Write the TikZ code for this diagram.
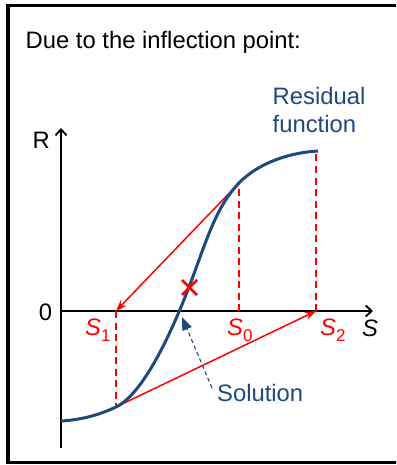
\documentclass[tikz,border=0pt]{standalone}
\usepackage{fontspec}
\setmainfont{Liberation Sans}
\usetikzlibrary{arrows.meta,calc}
\definecolor{curveblue}{HTML}{1F497D}
\definecolor{tanred}{HTML}{FF0000}
\newcommand{\svar}[1]{\textit{S}\raisebox{-6pt}{\fontsize{17}{17}\selectfont #1}}
\begin{document}
\begin{tikzpicture}[x=1pt,y=-1pt,
  lbl/.style={inner sep=0pt,font=\fontsize{23.8}{28}\selectfont},
  axisline/.style={line width=1.8pt,-{Straight Barb[length=6pt,width=11pt]}},
  curveline/.style={curveblue,line width=3pt},
  tangent/.style={tanred,line width=1.5pt,-{Stealth[length=11pt,width=8pt]}},
  guide/.style={tanred,line width=1.6pt,dash pattern=on 7pt off 4.5pt},
  solarrow/.style={curveblue,line width=1.1pt,dash pattern=on 4pt off 3pt,-{Triangle[length=13pt,width=10pt]}},
  crossmark/.style={tanred,line width=2.6pt},
  frame/.style={line width=3.5pt}]
\useasboundingbox (0,0) rectangle (396,465);
\clip (0,0) rectangle (396,465);
\draw[frame] (8,5.5) rectangle (410,462.5);

% title
\node[lbl,anchor=base west] (title) at (25.5,49) {Due to the inflection point:};

% axes
\coordinate (O) at (61,311);
\coordinate (ybot) at (61,448);
\coordinate (ytop) at (61,128);
\coordinate (xend) at (373,311);
\draw[axisline] (ybot) -- (ytop);
\draw[axisline] (O) -- (xend);
\node[lbl,anchor=base west] (rlab) at (32.5,149) {R};
\node[lbl,anchor=base] (zlab) at (45.5,320) {0};
\node[lbl,anchor=base west] (slab) at (362,336) {\textit{S}};

% curve points
\coordinate (A) at (61,421);
\coordinate (B) at (116,407);
\coordinate (C) at (189,287);
\coordinate (D) at (239,183);
\coordinate (E) at (318,151);
\coordinate (E2) at (316,151.3);
\coordinate (s1) at (116,311);
\coordinate (s0) at (239,311);
\coordinate (s2) at (316,311);

% guides
\draw[guide] (s1) -- (B);
\draw[guide] (s0) -- (D);
\draw[guide] (s2) -- (E2);

% tangents
\draw[tangent] (D) -- (s1);
\draw[tangent] (B) -- (s2);

% residual curve
\draw[curveline] (A) .. controls (80,420) and (98.9,415.2) .. (B)
  .. controls (143.1,394) and (171.1,333.7) .. (C)
  .. controls (205.2,245) and (214.7,208.2) .. (D)
  .. controls (258.4,162.8) and (290,152.5) .. (E);

% cross at inflection
\coordinate (X) at (189.5,287.5);
\draw[crossmark] ($(X)+(-7.5,-7.5)$) -- ($(X)+(7.5,7.5)$);
\draw[crossmark] ($(X)+(-7.5,7.5)$) -- ($(X)+(7.5,-7.5)$);

% S labels
\node[lbl,anchor=base west,text=tanred] (l1) at (85,335) {\svar{1}};
\node[lbl,anchor=base west,text=tanred] (l0) at (227,335) {\svar{0}};
\node[lbl,anchor=base west,text=tanred] (l2) at (320,335) {\svar{2}};

% residual function label
\node[lbl,anchor=base west,text=curveblue] (res1) at (272.5,105) {Residual};
\node[lbl,anchor=base west,text=curveblue] (res2) at (272.5,133) {function};

% solution
\node[lbl,anchor=base west,text=curveblue] (sol) at (217,401) {Solution};
\coordinate (solpt) at (182,317);
\draw[solarrow] ([shift={(-5,-4.5)}]sol.west) -- (solpt);
\end{tikzpicture}
\end{document}
